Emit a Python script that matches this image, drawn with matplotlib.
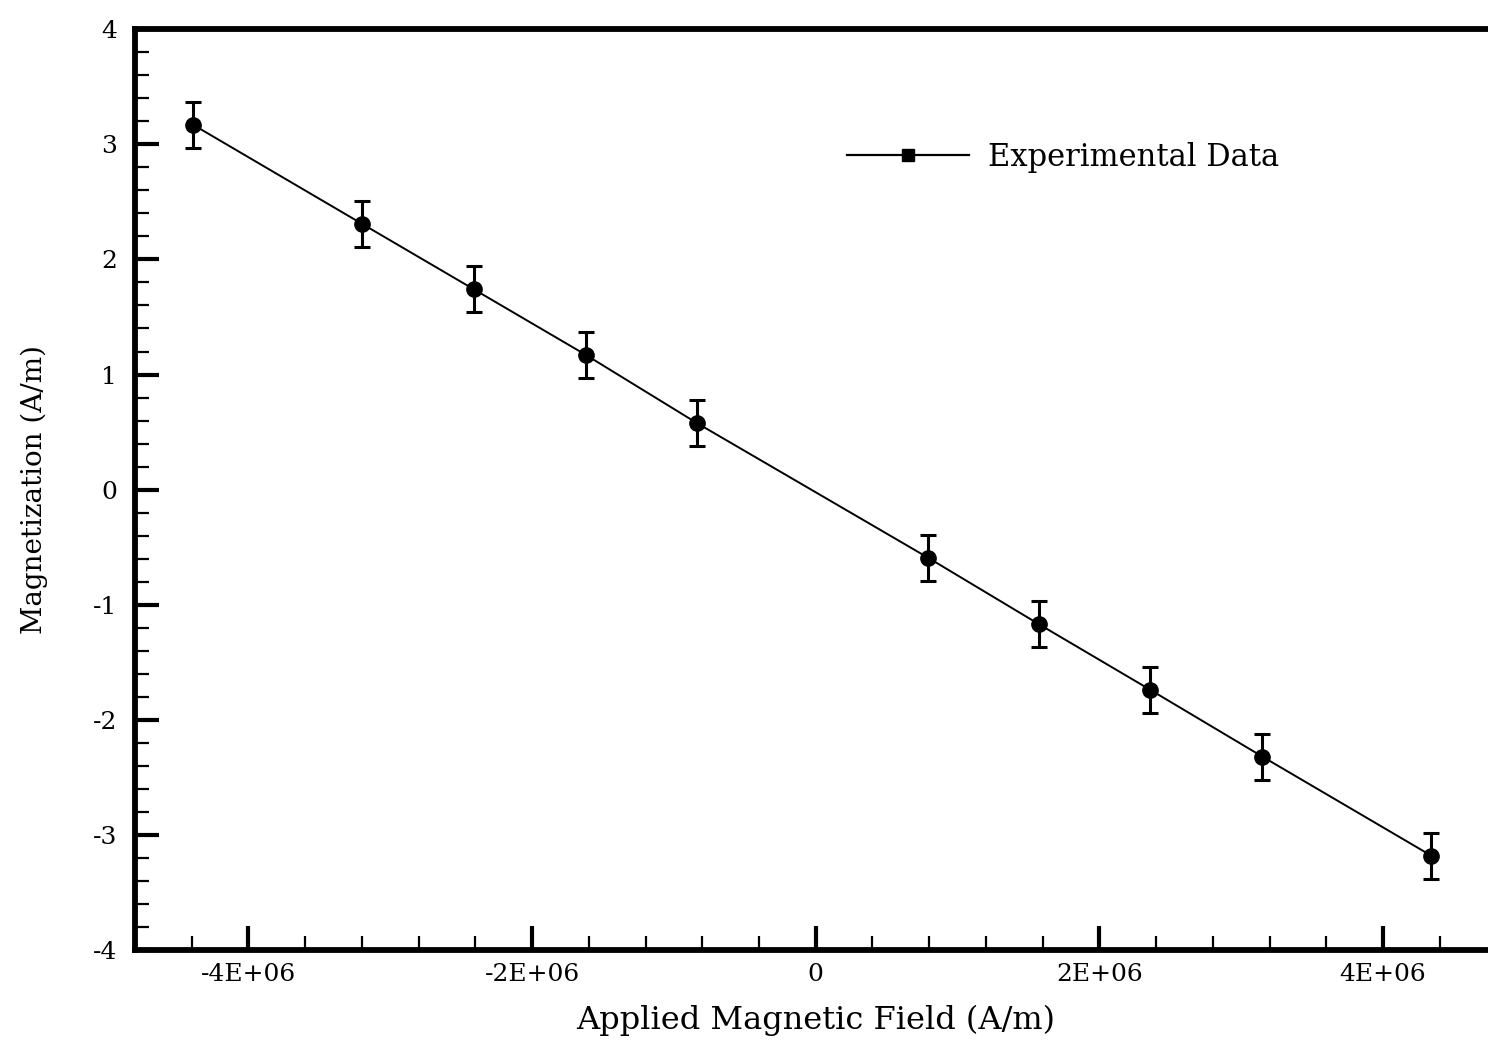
# Magnetization vs applied field, with error bars

import matplotlib.pyplot as plt
from matplotlib.lines import Line2D
from matplotlib.ticker import MultipleLocator

# Data
field = [-4.39e6, -3.20e6, -2.41e6, -1.62e6, -0.84e6, 0.79e6, 1.575e6, 2.36e6, 3.15e6, 4.34e6]
magnetization = [3.17, 2.31, 1.74, 1.17, 0.58, -0.59, -1.17, -1.74, -2.32, -3.18]
errors = [0.2, 0.2, 0.2, 0.2, 0.2, 0.2, 0.2, 0.2, 0.2, 0.2]

x_ticks = [-4e6, -2e6, 0, 2e6, 4e6]
x_tick_labels = ["-4E+06", "-2E+06", "0", "2E+06", "4E+06"]
y_ticks = [-4, -3, -2, -1, 0, 1, 2, 3, 4]


def main():
    plt.rcParams["font.family"] = ["DejaVu Serif"]
    plt.rcParams["axes.unicode_minus"] = False

    fig = plt.figure(figsize=(14.88, 10.44), dpi=100)
    ax = fig.add_axes([0.0907, 0.090, 0.915, 0.882])

    ax.errorbar(field, magnetization, yerr=errors, color="black",
                linewidth=1.4, marker="o", markersize=11,
                ecolor="black", elinewidth=2.2, capsize=6, capthick=2.2)

    ax.set_xlim(-4.8e6, 4.8e6)
    ax.set_ylim(-4, 4)

    ax.set_xticks(x_ticks)
    ax.set_xticklabels(x_tick_labels)
    ax.set_yticks(y_ticks)
    ax.xaxis.set_minor_locator(MultipleLocator(4e5))
    ax.yaxis.set_minor_locator(MultipleLocator(0.2))

    ax.tick_params(which="major", direction="in", length=17, width=3,
                   labelsize=18)
    ax.tick_params(which="minor", direction="in", length=10, width=1.6)
    ax.tick_params(axis="x", which="major", pad=9)
    ax.tick_params(axis="y", which="major", pad=13)
    ax.tick_params(top=False, right=False, which="both")

    for side in ["left", "bottom", "top"]:
        ax.spines[side].set_linewidth(4.2)
    ax.spines["right"].set_visible(False)

    ax.set_xlabel("Applied Magnetic Field (A/m)", fontsize=23, labelpad=14)
    ax.set_ylabel("Magnetization (A/m)", fontsize=20, labelpad=32)

    # legend shows a plain line with a small square marker
    handle = Line2D([], [], color="black", linewidth=1.6, marker="s",
                    markersize=8)
    ax.legend([handle], ["Experimental Data"], loc="center left",
              bbox_to_anchor=(0.514, 0.861), borderaxespad=0,
              frameon=False, fontsize=22, handlelength=4.0,
              handletextpad=0.6, numpoints=1)

    fig.savefig("out.png", dpi=100)
    plt.close(fig)


if __name__ == "__main__":
    main()
